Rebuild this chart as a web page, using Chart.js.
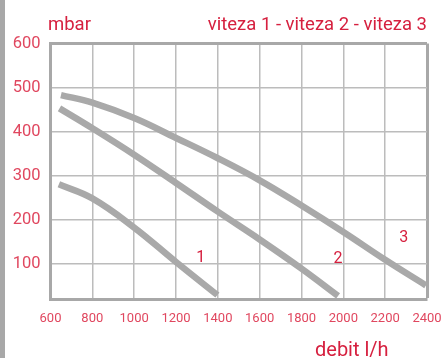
<!DOCTYPE html>
<html>
<head>
<meta charset="utf-8">
<script src="https://cdn.jsdelivr.net/npm/chart.js@4"></script>
<style>
  html, body { margin: 0; padding: 0; background: #fff; }
  #wrap { position: relative; width: 442px; height: 358px; }
  #bar { position: absolute; left: 0; top: 0; width: 5px; height: 358px; background: #a8a8a8; }
  canvas { position: absolute; left: 0; top: 0; }
</style>
</head>
<body>
<div id="wrap">
  <div id="bar"></div>
  <canvas id="pumpChart" width="442" height="358"></canvas>
</div>
<script>
// pump curves: flow (l/h) vs pressure (mbar) per speed
const flow1 = [640, 800, 1000, 1200, 1398];
const pressure1 = [281, 249, 183, 105, 30];
const flow2 = [643, 800, 1000, 1200, 1400, 1600, 1800, 1975];
const pressure2 = [453, 408, 348, 284, 219, 156, 90, 28];
const flow3 = [650, 800, 1000, 1200, 1400, 1600, 1800, 2000, 2200, 2395];
const pressure3 = [483, 466, 431, 386, 340, 290, 233, 173, 110, 52];

const xTicks = [600, 800, 1000, 1200, 1400, 1600, 1800, 2000, 2200, 2400];
const yTicks = [100, 200, 300, 400, 500, 600];

// curve numbers placed next to each curve
const curveNames = ['1', '2', '3'];
const curveNameX = [1318, 1975, 2289];
const curveNameY = [114, 111, 160];

const RED = '#d6203f';
const LABEL = '#e0475f';
const CURVE = '#a9a9a9';
const FRAME = '#a8a8a8';
const GRID = '#bcbcbc';

const toPoints = (xs, ys) => xs.map((x, i) => ({ x, y: ys[i] }));

function curve(xs, ys) {
  return {
    data: toPoints(xs, ys),
    borderColor: CURVE,
    borderWidth: 6.5,
    borderCapStyle: 'butt',
    pointRadius: 0,
    tension: 0.4,
    fill: false,
  };
}

const textPlugin = {
  id: 'texts',
  afterDraw(chart) {
    const ctx = chart.ctx;
    const { x, y } = chart.scales;
    ctx.save();
    ctx.fillStyle = RED;
    ctx.textBaseline = 'alphabetic';
    ctx.font = '18.5px Roboto';
    ctx.textAlign = 'left';
    ctx.fillText('mbar', 48, 30);
    ctx.textAlign = 'right';
    ctx.fillText('viteza 1 - viteza 2 - viteza 3', 427, 30);
    ctx.font = '20px Roboto';
    ctx.textAlign = 'left';
    ctx.fillText('debit l/h', 315, 356);

    ctx.font = '16px Roboto';
    ctx.textAlign = 'center';
    ctx.textBaseline = 'middle';
    curveNames.forEach((n, i) => {
      ctx.fillText(n, x.getPixelForValue(curveNameX[i]), y.getPixelForValue(curveNameY[i]));
    });
    ctx.restore();
  }
};

new Chart(document.getElementById('pumpChart'), {
  type: 'line',
  data: {
    datasets: [curve(flow1, pressure1), curve(flow2, pressure2), curve(flow3, pressure3)],
  },
  options: {
    responsive: false,
    animation: false,
    layout: { padding: { left: 0, top: 43.5, right: 15, bottom: 28.5 } },
    plugins: { legend: { display: false }, tooltip: { enabled: false } },
    scales: {
      x: {
        type: 'linear',
        min: 600,
        max: 2400,
        afterBuildTicks: axis => { axis.ticks = xTicks.map(v => ({ value: v })); },
        afterFit: axis => {
          axis.height = 30;
          axis.paddingLeft = 0;
          axis.paddingRight = 0;
        },
        ticks: {
          color: LABEL,
          font: { family: 'Roboto', size: 13 },
          padding: 11,
          maxRotation: 0,
          autoSkip: false,
          callback: v => String(v),
        },
        grid: {
          drawTicks: false,
          color: ctx => (ctx.tick && ctx.tick.value === 2400 ? FRAME : GRID),
          lineWidth: ctx => (ctx.tick && ctx.tick.value === 2400 ? 3 : 1.5),
        },
        border: { color: FRAME, width: 3 },
      },
      y: {
        type: 'linear',
        min: 20,
        max: 600,
        afterBuildTicks: axis => { axis.ticks = yTicks.map(v => ({ value: v })); },
        afterFit: axis => {
          axis.width = 50.5;
          axis.paddingTop = 0;
          axis.paddingBottom = 0;
        },
        ticks: {
          color: LABEL,
          font: { family: 'Roboto', size: 16.5 },
          padding: 10,
        },
        grid: {
          drawTicks: false,
          color: ctx => (ctx.tick && ctx.tick.value === 600 ? FRAME : GRID),
          lineWidth: ctx => (ctx.tick && ctx.tick.value === 600 ? 3 : 1.5),
        },
        border: { color: FRAME, width: 3 },
      },
    },
  },
  plugins: [textPlugin],
});
</script>
</body>
</html>
